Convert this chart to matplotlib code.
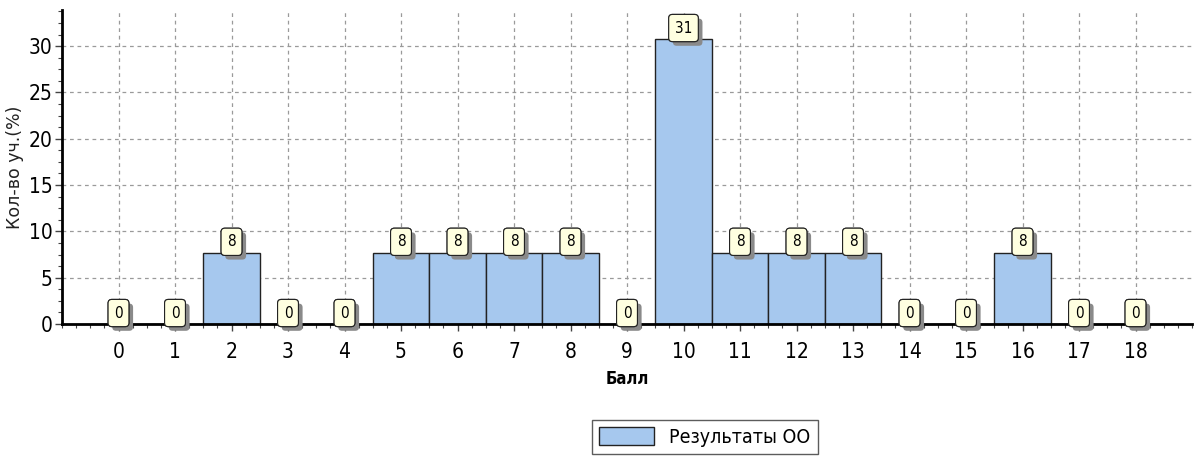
#!/usr/bin/env python3

import matplotlib
matplotlib.use('Agg')
from matplotlib import pyplot as plt
from matplotlib import patheffects as pe
from matplotlib.ticker import MultipleLocator

# Score (Балл) and share of pupils in percent
scores = list(range(19))
percent = [0, 0, 7.69, 0, 0, 7.69, 7.69, 7.69, 7.69, 0,
           30.77, 7.69, 7.69, 7.69, 0, 0, 7.69, 0, 0]
series_name = "Результаты ОО"

NARROW = dict(family='DejaVu Sans', stretch='condensed')


def main():
    fig = plt.figure(figsize=(11.94, 4.58), dpi=100)
    ax = fig.add_axes([62 / 1194, 1 - 324 / 458, 1130 / 1194, 314 / 458])

    ax.bar(scores, percent, width=1.0, color='#a6c8ee', edgecolor='#222222',
           linewidth=1.0, label=series_name, zorder=2)

    for x, v in zip(scores, percent):
        t = ax.annotate("%d" % round(v), xy=(x, v), xytext=(0, 2.5),
                        textcoords='offset points', ha='center', va='bottom',
                        fontsize=11, zorder=5, **NARROW,
                        bbox=dict(boxstyle='round,pad=0.4,rounding_size=0.25',
                                  fc='#ffffe0', ec='#222222', lw=0.8))
        t.get_bbox_patch().set_path_effects(
            [pe.withSimplePatchShadow(offset=(3, -3), shadow_rgbFace='#8a8a8a',
                                      alpha=1.0), pe.Normal()])

    ax.set_xlim(-1, 19)
    ax.set_ylim(0, 33.9)
    ax.set_xticks(scores)
    ax.xaxis.set_minor_locator(MultipleLocator(0.25))
    ax.yaxis.set_major_locator(MultipleLocator(5))
    ax.yaxis.set_minor_locator(MultipleLocator(1.25))
    ax.tick_params(axis='both', which='major', length=5, width=1,
                   labelsize=15, color='#444444')
    ax.tick_params(axis='both', which='minor', length=3, width=0.8,
                   color='#444444')
    for lab in ax.get_xticklabels() + ax.get_yticklabels():
        lab.set_fontstretch('condensed')
    ax.tick_params(axis='x', pad=8)
    ax.tick_params(axis='y', pad=2)

    ax.grid(True, which='major', linestyle=(0, (3, 3)), color='#9a9a9a',
            linewidth=0.9, zorder=0)
    ax.set_axisbelow(True)
    for side in ['top', 'right']:
        ax.spines[side].set_visible(False)
    for side in ['left', 'bottom']:
        ax.spines[side].set_linewidth(2)
        ax.spines[side].set_color('black')

    ax.set_ylabel("Кол-во уч.(%)", fontsize=12.5, family='DejaVu Sans',
                  labelpad=3, color='#222222')
    ax.set_xlabel("Балл", fontsize=12, fontweight='bold', labelpad=6,
                  **NARROW)

    leg = fig.legend(loc='center', bbox_to_anchor=(705 / 1194, 1 - 437 / 458),
                     frameon=True, fancybox=False, edgecolor='#333333',
                     prop=dict(size=14, **NARROW), handlelength=2.8,
                     handleheight=1.0, borderpad=0.4)
    leg.get_frame().set_linewidth(1.0)

    plt.savefig("out.png", dpi=100)


if __name__ == "__main__":
    main()
